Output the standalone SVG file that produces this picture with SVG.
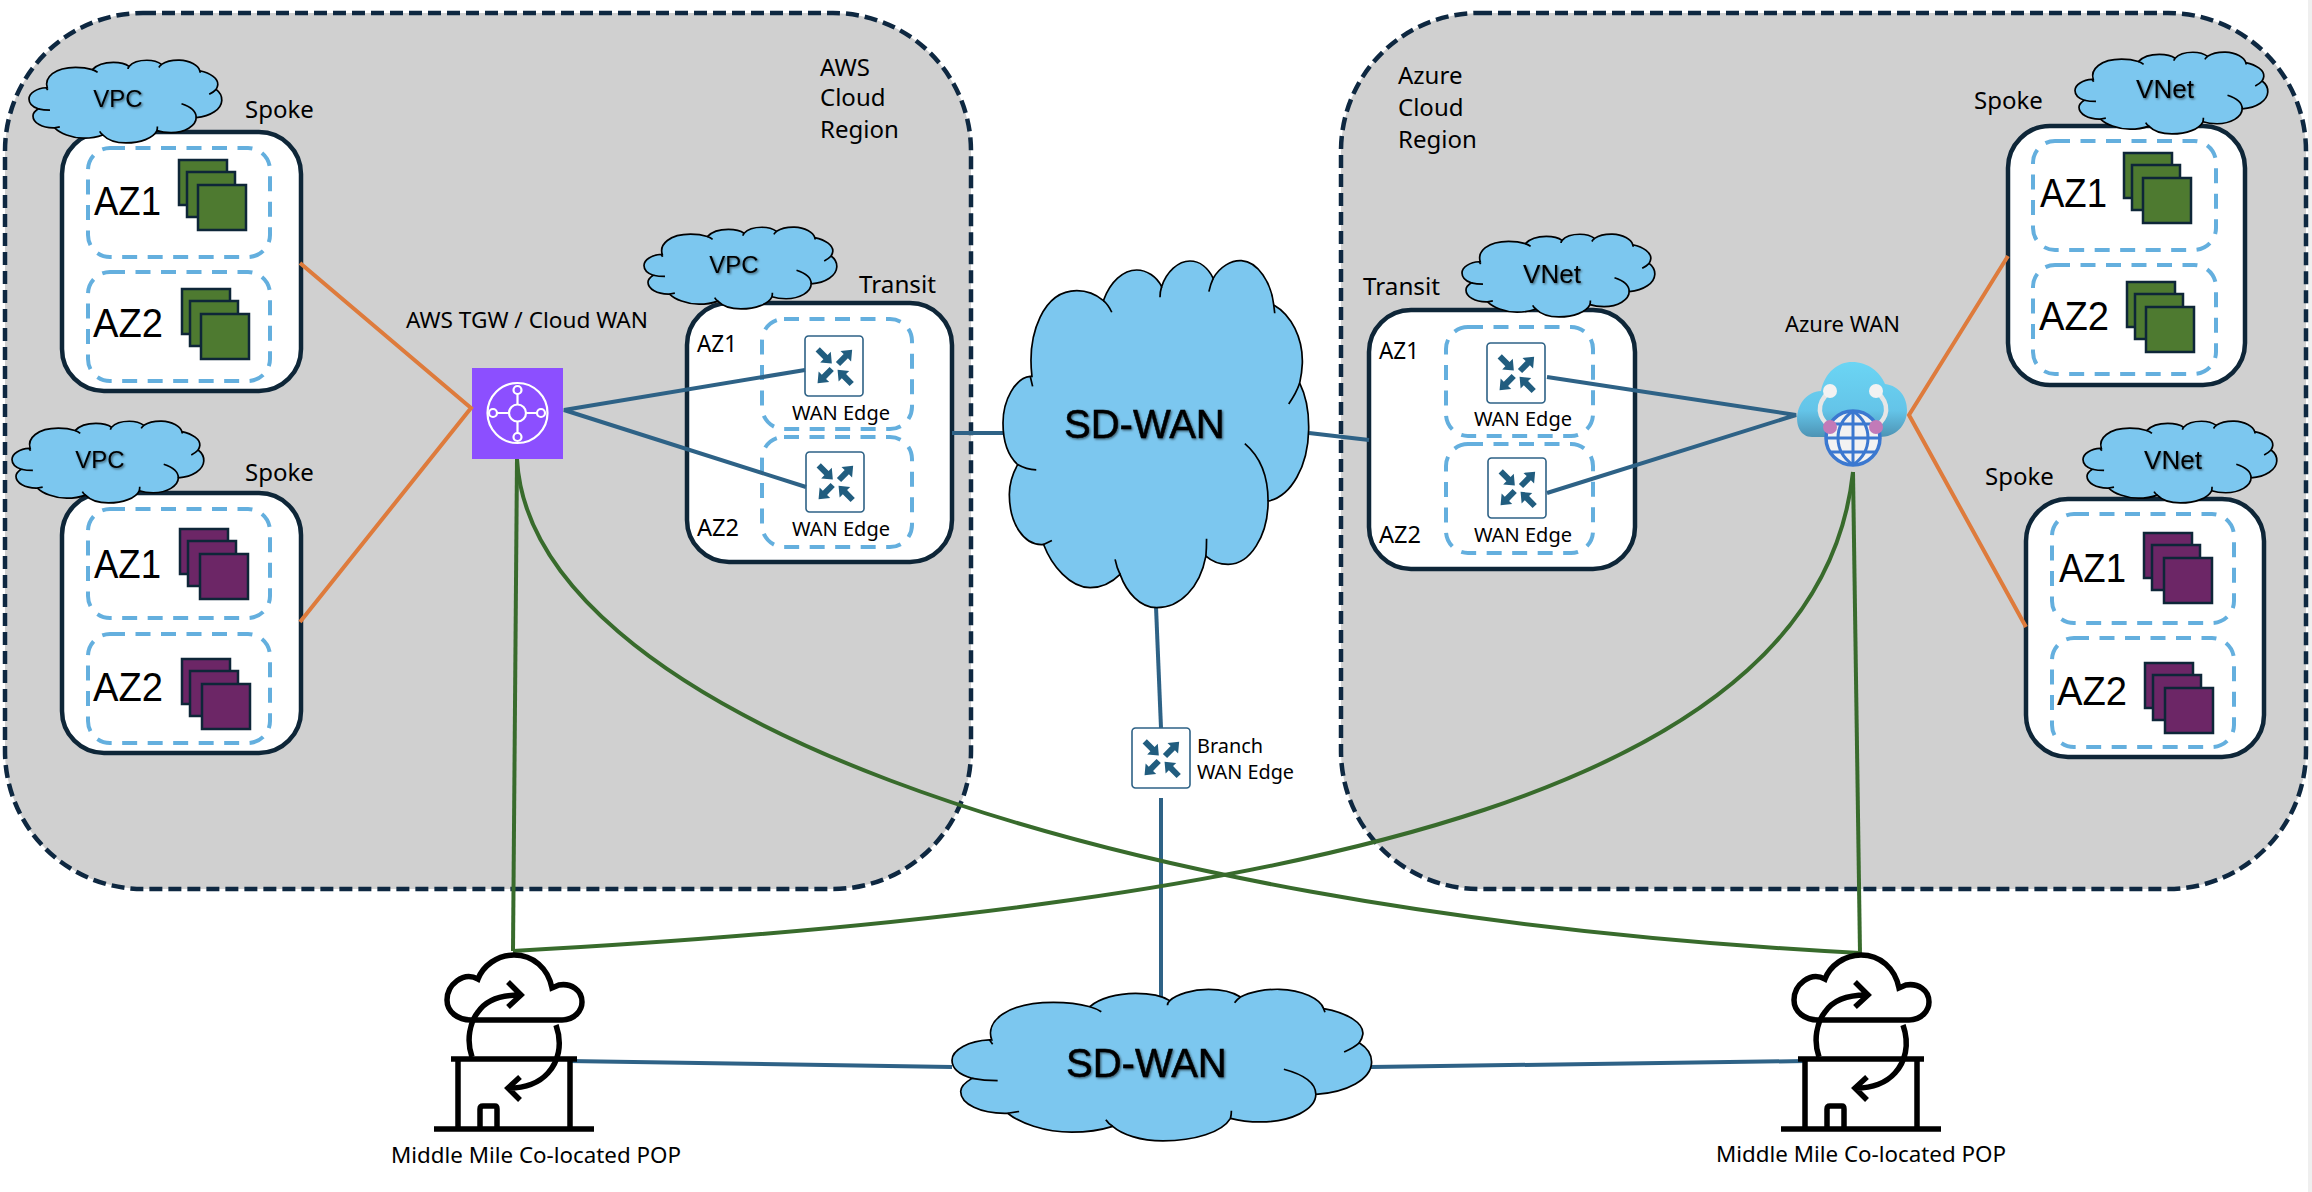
<svg xmlns="http://www.w3.org/2000/svg" xmlns:xlink="http://www.w3.org/1999/xlink" width="2312" height="1192" viewBox="0 0 2312 1192">
<style>
text{font-family:"Noto Sans","Liberation Sans",sans-serif;fill:#000}
.t24{font-size:24px}
.wan{font-size:20px}
.az{font-family:"Liberation Sans",sans-serif;font-size:40px}
.cl{font-family:"Liberation Sans",sans-serif;font-size:24px;text-anchor:middle;filter:url(#sh)}
.sd{font-family:"Liberation Sans",sans-serif;font-size:40px;stroke:#000;stroke-width:.5;filter:url(#sh)}
.region{fill:#d0d0d0;stroke:#0e2841;stroke-width:4.5;stroke-dasharray:13 6}
.box{fill:#fff;stroke:#0e2638;stroke-width:4.5}
.dash{fill:none;stroke:#64afde;stroke-width:4;stroke-dasharray:15 10.5}
.cf{fill:#7cc7ef;stroke:#000;stroke-width:1.7;vector-effect:non-scaling-stroke}
.cc{fill:none;stroke:#000;stroke-width:1.7;vector-effect:non-scaling-stroke}
.sq{stroke:#0e2638;stroke-width:2.5}
.g{fill:#4e7a30}.p{fill:#6c2666}
.or{stroke:#de7b3c;stroke-width:4;fill:none}
.bl{stroke:#2e6286;stroke-width:4;fill:none}
.gr{stroke:#386b2c;stroke-width:4;fill:none}
.pop{fill:none;stroke:#000;stroke-width:5.5}
</style>
<defs>
<filter id="sh" x="-10%" y="-20%" width="125%" height="150%"><feDropShadow dx="1.2" dy="1.2" stdDeviation="1.1" flood-color="#000" flood-opacity=".55"/></filter>
<linearGradient id="azg" x1="0" y1="0" x2="0" y2="1"><stop offset="0" stop-color="#6bd5f4"/><stop offset=".65" stop-color="#64c4e8"/><stop offset="1" stop-color="#4d93b4"/></linearGradient>
<symbol id="cloud" viewBox="8 0 920 1046" preserveAspectRatio="none" overflow="visible">
<path class="cf" d="M95,350 C80,220 130,92 230,92 C265,92 290,105 310,122 C330,65 370,30 410,30 C440,30 470,50 485,80 C500,35 535,3 570,3 C600,3 625,25 640,55 C660,20 695,0 725,2 C775,5 815,70 822,135 C875,165 910,235 908,310 C907,335 904,352 900,370 C920,410 928,460 927,510 C925,620 875,710 805,725 C805,830 750,915 685,915 C660,915 635,905 618,890 C600,985 540,1045 470,1045 C420,1045 380,1000 360,945 C330,975 300,985 270,985 C210,985 155,920 130,855 C70,860 27,790 27,705 C27,670 38,640 52,615 C25,590 8,545 8,490 C8,420 45,355 90,350 Z"/>
<path class="cc" d="M97,380 L90,350 M335,157 Q325,135 310,122 M480,112 Q480,95 485,80 M627,95 Q632,72 640,55 M825,160 L822,135 M867,433 Q890,400 900,370 M735,552 C780,590 805,650 805,725 M620,838 Q620,865 618,890 M345,900 Q350,925 360,945 M155,843 L130,855 M108,631 Q78,630 52,615"/>
</symbol>
<g id="stackG"><rect class="sq g" x="0" y="0" width="48" height="45"/><rect class="sq g" x="8" y="12" width="48" height="45"/><rect class="sq g" x="19" y="25" width="48" height="45"/></g>
<g id="stackP"><rect class="sq p" x="0" y="0" width="48" height="45"/><rect class="sq p" x="8" y="12" width="48" height="45"/><rect class="sq p" x="20" y="25" width="48" height="45"/></g>
<polygon id="arr" points="0,-3 11,-3 11,-7.5 20,0 11,7.5 11,3 0,3" fill="#215d7f"/>
<g id="router">
<rect x="0" y="0" width="58" height="60" rx="3.5" fill="#fff" stroke="#2e6286" stroke-width="1.6"/>
<use href="#arr" transform="translate(12.7,13.3) rotate(45)"/>
<use href="#arr" transform="translate(33,28) rotate(-45)"/>
<use href="#arr" transform="translate(26.7,33) rotate(135)"/>
<use href="#arr" transform="translate(46.7,48) rotate(-135)"/>
</g>
<g id="popIcon">
<path class="pop" d="M471,1020 H562 C575,1020 582,1010 582,1002 C582,990 571,983 559,985 L552,988 C548,968 533,955 514,955 C497,955 483,966 478,979 C463,971 447,985 447,1000 C447,1012 458,1020 471,1020 Z"/>
<path class="pop" d="M472,1057 C466,1040 470,1022 478,1012 C486,1000 500,995 519,995 M508,982 L521,995 L508,1007"/>
<path class="pop" d="M556,1025 C563,1045 558,1062 548,1073 C538,1084 525,1088 509,1088 M520,1077 L508,1088 L520,1100"/>
<path class="pop" d="M451,1059 H577 M458,1059 V1129 M570,1059 V1129 M434,1129 H594 M480,1129 V1109 Q480,1106 483,1106 H495 Q497,1106 497,1109 V1129"/>
</g>
</defs>
<rect width="2312" height="1192" fill="#fff"/>
<rect x="2308" width="4" height="1192" fill="#efefef"/>

<g id="aws-region"><rect class="region" x="5" y="13" width="966" height="876" rx="138"/>
<text class="t24" x="820" y="76">AWS</text><text class="t24" x="820" y="106">Cloud</text><text class="t24" x="820" y="138">Region</text></g>
<g id="azure-region"><rect class="region" x="1341" y="13" width="965" height="876" rx="138"/>
<text class="t24" x="1398" y="84">Azure</text><text class="t24" x="1398" y="116">Cloud</text><text class="t24" x="1398" y="148">Region</text></g>

<g id="aws-spoke-1">
<rect class="box" x="62" y="132" width="239" height="259" rx="42"/>
<rect class="dash" x="88" y="148" width="182" height="109" rx="22"/>
<rect class="dash" x="88" y="272" width="182" height="109" rx="22"/>
<text class="az" x="94" y="215" textLength="67" lengthAdjust="spacingAndGlyphs">AZ1</text>
<text class="az" x="93" y="337" textLength="70" lengthAdjust="spacingAndGlyphs">AZ2</text>
<use href="#stackG" x="179" y="160"/><use href="#stackG" x="182" y="289"/>
<use href="#cloud" x="29" y="60" width="193" height="83"/>
<text class="cl" x="118" y="107">VPC</text>
<text class="t24" x="245" y="118">Spoke</text>
</g>
<g id="aws-spoke-2">
<rect class="box" x="62" y="493" width="239" height="260" rx="42"/>
<rect class="dash" x="88" y="509" width="182" height="109" rx="22"/>
<rect class="dash" x="88" y="634" width="182" height="109" rx="22"/>
<text class="az" x="94" y="578" textLength="67" lengthAdjust="spacingAndGlyphs">AZ1</text>
<text class="az" x="93" y="701" textLength="70" lengthAdjust="spacingAndGlyphs">AZ2</text>
<use href="#stackP" x="180" y="529"/><use href="#stackP" x="182" y="659"/>
<use href="#cloud" x="12" y="421" width="192" height="82"/>
<text class="cl" x="100" y="468">VPC</text>
<text class="t24" x="245" y="481">Spoke</text>
</g>
<g id="aws-tgw">
<rect x="472" y="368" width="91" height="91" fill="#8c4fff"/>
<g fill="none" stroke="#fff" stroke-width="2.2">
<circle cx="517.5" cy="413" r="30"/>
<circle cx="517.5" cy="413" r="8.5"/>
<circle cx="517.5" cy="390" r="4"/><circle cx="517.5" cy="437" r="4"/><circle cx="493" cy="413" r="4"/><circle cx="541" cy="413" r="4"/>
<path d="M517.5,394 V404.5 M517.5,421.5 V433 M497,413 H509 M526,413 H537"/>
</g>
<text x="406" y="328" font-size="22" textLength="242" lengthAdjust="spacingAndGlyphs">AWS TGW / Cloud WAN</text>
</g>
<g id="aws-transit">
<rect class="box" x="687" y="303" width="265" height="259" rx="42"/>
<rect class="dash" x="762" y="319" width="150" height="110" rx="22"/>
<rect class="dash" x="762" y="437" width="150" height="110" rx="22"/>
<text class="t24" x="697" y="352" textLength="40" lengthAdjust="spacingAndGlyphs">AZ1</text>
<text class="t24" x="697" y="536" textLength="42" lengthAdjust="spacingAndGlyphs">AZ2</text>
<use href="#router" x="805" y="336"/><use href="#router" x="806" y="452"/>
<text class="wan" x="792" y="420" textLength="98" lengthAdjust="spacingAndGlyphs">WAN Edge</text>
<text class="wan" x="792" y="536" textLength="98" lengthAdjust="spacingAndGlyphs">WAN Edge</text>
<use href="#cloud" x="644" y="227" width="193" height="82"/>
<text class="cl" x="734" y="273">VPC</text>
<text class="t24" x="859" y="293" textLength="77" lengthAdjust="spacingAndGlyphs">Transit</text>
</g>
<g id="azure-transit">
<rect class="box" x="1369" y="310" width="266" height="259" rx="42"/>
<rect class="dash" x="1446" y="327" width="147" height="109" rx="22"/>
<rect class="dash" x="1446" y="444" width="147" height="109" rx="22"/>
<text class="t24" x="1379" y="359" textLength="40" lengthAdjust="spacingAndGlyphs">AZ1</text>
<text class="t24" x="1379" y="543" textLength="42" lengthAdjust="spacingAndGlyphs">AZ2</text>
<use href="#router" x="1487" y="343"/><use href="#router" x="1488" y="458"/>
<text class="wan" x="1474" y="426" textLength="98" lengthAdjust="spacingAndGlyphs">WAN Edge</text>
<text class="wan" x="1474" y="542" textLength="98" lengthAdjust="spacingAndGlyphs">WAN Edge</text>
<use href="#cloud" x="1462" y="234" width="193" height="83"/>
<text class="cl" x="1552" y="283" style="font-size:26px">VNet</text>
<text class="t24" x="1363" y="295" textLength="77" lengthAdjust="spacingAndGlyphs">Transit</text>
</g>
<g id="azure-wan">
<path d="M1812,437 C1790,437 1792,393 1821,391 C1825,372 1838,362 1852,362 C1868,362 1880,372 1885,384 C1900,386 1907,398 1907,410 C1907,426 1895,437 1880,437 Z" fill="url(#azg)"/>
<path d="M1830,391 C1814,405 1819,418 1830,427 M1876,391 C1892,405 1887,418 1876,427" fill="none" stroke="#e6e6e6" stroke-width="4.5"/>
<circle cx="1830" cy="391" r="7" fill="#f2f2f2"/><circle cx="1876" cy="391" r="7" fill="#f2f2f2"/>
<circle cx="1853" cy="438" r="27" fill="#f2f2f2" stroke="#3b78d0" stroke-width="3.5"/>
<path d="M1853,411 V465 M1826,438 H1880 M1831,424 H1875 M1831,452 H1875 M1853,411 C1833,425 1833,451 1853,465 M1853,411 C1873,425 1873,451 1853,465" fill="none" stroke="#3b78d0" stroke-width="3"/>
<circle cx="1830" cy="427" r="7" fill="#c27ab8"/><circle cx="1876" cy="427" r="7" fill="#c27ab8"/>
<text x="1785" y="332" font-size="22" textLength="115" lengthAdjust="spacingAndGlyphs">Azure WAN</text>
</g>
<g id="azure-spoke-1">
<rect class="box" x="2008" y="126" width="237" height="259" rx="42"/>
<rect class="dash" x="2033" y="141" width="183" height="109" rx="22"/>
<rect class="dash" x="2033" y="265" width="183" height="109" rx="22"/>
<text class="az" x="2040" y="207" textLength="67" lengthAdjust="spacingAndGlyphs">AZ1</text>
<text class="az" x="2039" y="330" textLength="70" lengthAdjust="spacingAndGlyphs">AZ2</text>
<use href="#stackG" x="2124" y="153"/><use href="#stackG" x="2127" y="282"/>
<use href="#cloud" x="2075" y="52" width="193" height="82"/>
<text class="cl" x="2165" y="98" style="font-size:26px">VNet</text>
<text class="t24" x="1974" y="109">Spoke</text>
</g>
<g id="azure-spoke-2">
<rect class="box" x="2026" y="499" width="238" height="258" rx="42"/>
<rect class="dash" x="2052" y="514" width="182" height="109" rx="22"/>
<rect class="dash" x="2052" y="638" width="182" height="109" rx="22"/>
<text class="az" x="2059" y="582" textLength="67" lengthAdjust="spacingAndGlyphs">AZ1</text>
<text class="az" x="2057" y="705" textLength="70" lengthAdjust="spacingAndGlyphs">AZ2</text>
<use href="#stackP" x="2144" y="533"/><use href="#stackP" x="2145" y="663"/>
<use href="#cloud" x="2083" y="421" width="194" height="82"/>
<text class="cl" x="2173" y="469" style="font-size:26px">VNet</text>
<text class="t24" x="1985" y="485">Spoke</text>
</g>

<g id="connectors">
<path class="or" d="M300,263 L471,408 L300,622"/>
<path class="or" d="M2008,256 L1909,415 L2026,627"/>
<path class="bl" d="M805,370 L564,410 L806,487"/>
<path class="bl" d="M1547,377 L1796,415 L1547,493"/>
<path class="bl" d="M952,433 H1003"/>
<path class="bl" d="M1309,433 L1369,440"/>
<path class="bl" d="M1156,607 L1161,728"/>
<path class="bl" d="M1161,798 V998"/>
<path class="bl" d="M568,1061 L952,1067"/>
<path class="bl" d="M1371,1067 L1806,1061"/>
<path class="gr" d="M517,459 L513,951"/>
<path class="gr" d="M1853,472 L1860,953"/>
<path class="gr" d="M517,459 C530,700 1050,910 1860,953"/>
<path class="gr" d="M1853,472 C1820,780 1350,905 513,951"/>
</g>

<g id="sdwan-top">
<use href="#cloud" x="1003" y="260" width="306" height="348"/>
<text class="sd" x="1064" y="438">SD-WAN</text>
</g>
<g id="sdwan-bottom">
<use href="#cloud" x="952" y="989" width="420" height="152"/>
<text class="sd" x="1066" y="1077">SD-WAN</text>
</g>
<g id="branch">
<use href="#router" x="1132" y="728"/>
<text class="wan" x="1197" y="753" textLength="66" lengthAdjust="spacingAndGlyphs">Branch</text>
<text class="wan" x="1197" y="779" textLength="97" lengthAdjust="spacingAndGlyphs">WAN Edge</text>
</g>
<g id="pop-left">
<use href="#popIcon"/>
<text x="391" y="1163" font-size="21" textLength="290" lengthAdjust="spacingAndGlyphs">Middle Mile Co-located POP</text>
</g>
<g id="pop-right">
<use href="#popIcon" x="1347"/>
<text x="1716" y="1162" font-size="21" textLength="290" lengthAdjust="spacingAndGlyphs">Middle Mile Co-located POP</text>
</g>
</svg>
